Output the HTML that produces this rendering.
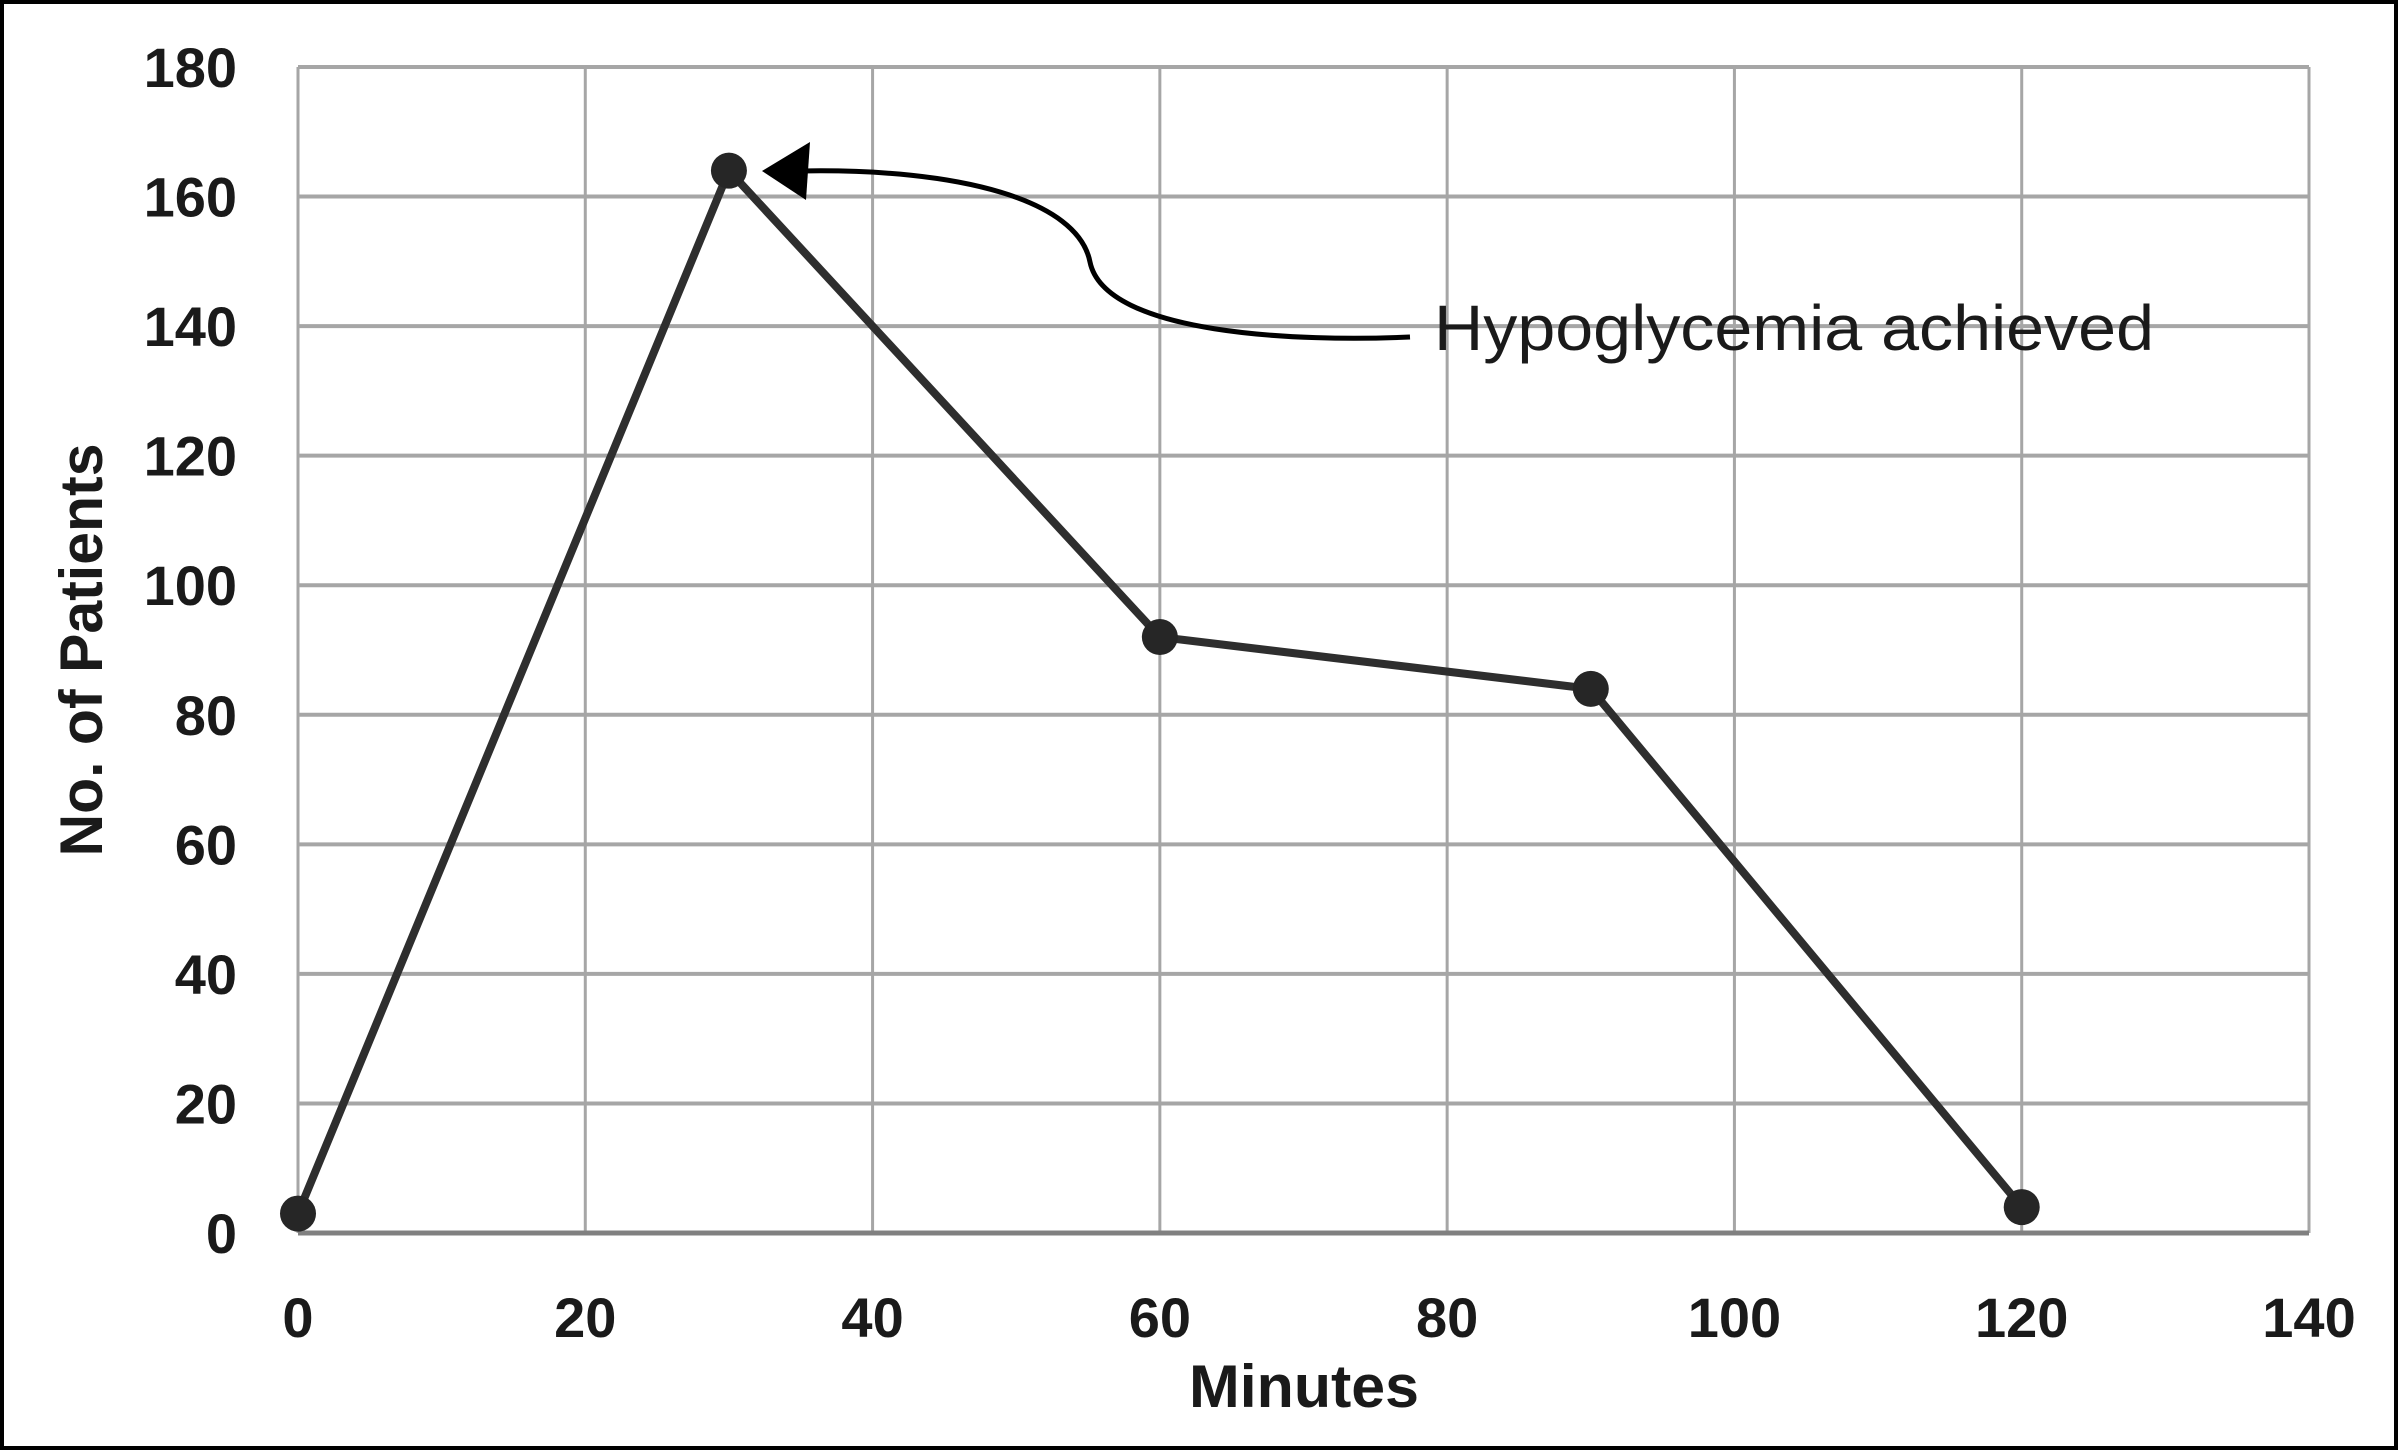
<!DOCTYPE html>
<html><head><meta charset="utf-8"><style>
html,body{margin:0;padding:0;background:#fff}
svg{display:block}
text{font-family:"Liberation Sans",sans-serif;fill:#1a1a1a}
</style></head><body>
<svg id="chart" width="2398" height="1450" viewBox="0 0 2398 1450" xmlns="http://www.w3.org/2000/svg">
<rect x="2" y="2" width="2394" height="1446" fill="#fff" stroke="#000" stroke-width="4"/>
<g id="grid"></g>
<g id="ticks"></g>
<g id="series"></g>
<text x="1304" y="1407" font-size="60" font-weight="bold" text-anchor="middle" textLength="230" lengthAdjust="spacingAndGlyphs">Minutes</text>
<text transform="translate(102,650) rotate(-90)" font-size="60" font-weight="bold" text-anchor="middle" textLength="413" lengthAdjust="spacingAndGlyphs">No. of Patients</text>
<g>
<path d="M1410,337 C1300,342 1105,335 1090,262 C1078,200 960,168 800,171" fill="none" stroke="#000" stroke-width="5"/>
<polygon points="762,171 810,142 806,200" fill="#000"/>
<text x="1434" y="350" font-size="64" textLength="720" lengthAdjust="spacingAndGlyphs">Hypoglycemia achieved</text>
</g>
</svg>
<script>
const xTicks=[0,20,40,60,80,100,120,140];
const yTicks=[0,20,40,60,80,100,120,140,160,180];
const minutes=[0,30,60,90,120];
const patients=[3,164,92,84,4];
const NS="http://www.w3.org/2000/svg";
const X0=298,X1=2309,Y0=1233,Y1=67;
function sx(v){return X0+(v-0)/(140-0)*(X1-X0);}
function sy(v){return Y0-(v-0)/(180-0)*(Y0-Y1);}
function mk(tag,attrs,parent){const e=document.createElementNS(NS,tag);for(const k in attrs)e.setAttribute(k,attrs[k]);parent.appendChild(e);return e;}
const grid=document.getElementById('grid'),ticks=document.getElementById('ticks'),series=document.getElementById('series');
xTicks.forEach(t=>{
  const l=mk('line',{x1:sx(t),x2:sx(t),y1:Y1,y2:Y0,stroke:'#a6a6a6','stroke-width':3},grid);
  
  
  const tx=mk('text',{x:sx(t),y:Y0+104,'font-size':56,'font-weight':'bold','text-anchor':'middle'},ticks);
  tx.textContent=t;
  
  
});
yTicks.forEach(t=>{
  const l=mk('line',{x1:X0,x2:X1,y1:sy(t),y2:sy(t),stroke:t===0?'#808080':'#a6a6a6','stroke-width':t===0?5:4},grid);
  
  
  const tx=mk('text',{x:237,y:sy(t)+20,'font-size':56,'font-weight':'bold','text-anchor':'end'},ticks);
  tx.textContent=t;
  
  
});
const pts=minutes.map((m,i)=>sx(m)+','+sy(patients[i])).join(' ');
const pl=mk('polyline',{points:pts,fill:'none',stroke:'#2e2e2e','stroke-width':8,'stroke-linejoin':'round'},series);


minutes.forEach((m,i)=>{
  const c=mk('ellipse',{cx:sx(m),cy:sy(patients[i]),rx:18,ry:18,fill:'#262626'},series);
  
  
});
</script>
</body></html>
